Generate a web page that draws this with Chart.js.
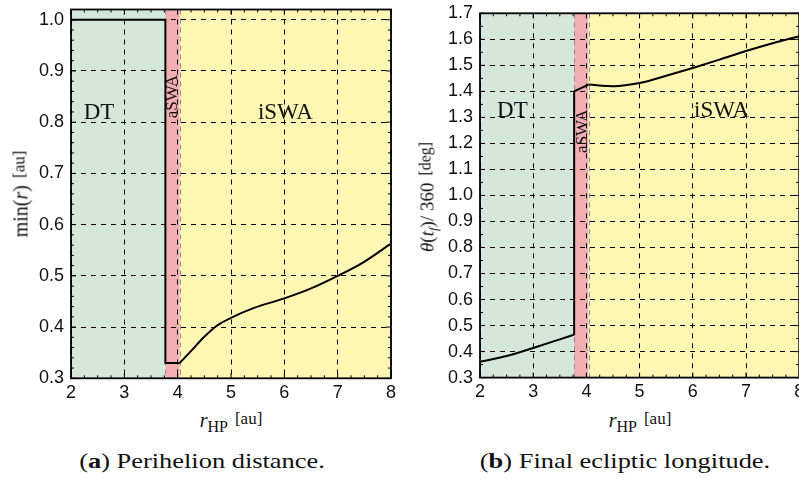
<!DOCTYPE html>
<html>
<head>
<meta charset="utf-8">
<script src="https://cdn.jsdelivr.net/npm/chart.js@4.4.0/dist/chart.umd.min.js"></script>
<style>
  body { margin: 0; width: 799px; height: 481px; overflow: hidden; background: #fff; position: relative; }
  canvas { position: absolute; top: 0; }
  .t { position: absolute; font-family: "Liberation Serif", "DejaVu Serif", serif; color: #111; white-space: nowrap; transform: translate(-50%, -50%); }
  .t.rot { transform: translate(-50%, -50%) rotate(-90deg); }
  .ax { font-size: 20px; }
  .ax i { font-style: italic; }
  .ax sub { font-size: 16px; vertical-align: -5px; }
  .ax .u { font-size: 17px; position: relative; top: -3px; margin-left: 7px; }
  .ax.th { font-size: 19px; }
  .ax.th sub { font-size: 13px; vertical-align: -4px; }
  .ax.th .u { font-size: 16px; }
  .cap { font-size: 22px; transform: translate(-50%, -50%) scaleX(1.2); }
</style>
</head>
<body>
<canvas id="chartA" width="400" height="400" style="left:0"></canvas>
<canvas id="chartB" width="410" height="400" style="left:400px"></canvas>

<div class="t ax" style="left:231px;top:422px"><i>r</i><sub>HP</sub><span class="u">[au]</span></div>
<div class="t ax" style="left:640px;top:422px"><i>r</i><sub>HP</sub><span class="u">[au]</span></div>
<div class="t ax rot" style="left:21px;top:194px">min(<i>r</i>)<span class="u">[au]</span></div>
<div class="t ax th rot" style="left:429px;top:197px"><i>θ</i>(<i>t<sub>f</sub></i>)/ 360<span class="u">[deg]</span></div>
<div class="t cap" style="left:202px;top:461px">(<b>a</b>) Perihelion distance.</div>
<div class="t cap" style="left:625px;top:461px">(<b>b</b>) Final ecliptic longitude.</div>

<script>
// (a) perihelion distance vs r_HP
const stepXA = [2, 3.77, 3.77, 4.04];
const stepYA = [1, 1, 0.33, 0.33];
const curveXA = [4.04, 4.24, 4.49, 4.74, 5.0, 5.42, 6.0, 6.49, 7.0, 7.49, 8.0];
const curveYA = [0.330, 0.352, 0.380, 0.403, 0.418, 0.437, 0.456, 0.475, 0.500, 0.527, 0.563];
const yTicksA = [0.3, 0.4, 0.5, 0.6, 0.7, 0.8, 0.9, 1];

// (b) final ecliptic longitude vs r_HP
const lowXB = [2, 2.5, 3, 3.5, 3.77];
const lowYB = [0.361, 0.383, 0.414, 0.447, 0.465];
const jumpXB = [3.77, 3.77, 4.04];
const jumpYB = [0.465, 1.40, 1.426];
const highXB = [4.04, 4.51, 5, 5.5, 6, 6.5, 7, 7.5, 8];
const highYB = [1.426, 1.420, 1.432, 1.460, 1.490, 1.522, 1.555, 1.585, 1.612];
const yTicksB = [0.3, 0.4, 0.5, 0.6, 0.7, 0.8, 0.9, 1, 1.1, 1.2, 1.3, 1.4, 1.5, 1.6, 1.7];

const xTicks = [2, 3, 4, 5, 6, 7, 8];
const bandEdges = [2, 3.77, 4.04, 8];
const bandNames = ['DT', 'aSWA', 'iSWA'];
const bandColors = ['#d5e7da', '#f3aeb3', '#fff6b3'];

const pts = (xs, ys) => xs.map((x, i) => ({ x, y: ys[i] }));

const regionPlugin = {
  id: 'regions',
  beforeDraw(chart, args, o) {
    const { ctx, chartArea: a, scales: { x, y } } = chart;
    ctx.save();
    for (let i = 0; i < bandNames.length; i++) {
      const x0 = x.getPixelForValue(bandEdges[i]);
      const x1 = x.getPixelForValue(bandEdges[i + 1]);
      ctx.fillStyle = bandColors[i];
      ctx.fillRect(x0, a.top, x1 - x0, a.bottom - a.top);
    }
    // dashed edges of the middle band
    ctx.strokeStyle = '#8c8c8c';
    ctx.lineWidth = 1;
    ctx.setLineDash([5, 4]);
    [bandEdges[1], bandEdges[2]].forEach(v => {
      const px = Math.round(x.getPixelForValue(v)) + 0.5;
      ctx.beginPath();
      ctx.moveTo(px, a.top);
      ctx.lineTo(px, a.bottom);
      ctx.stroke();
    });
    ctx.setLineDash([]);
    ctx.fillStyle = '#111';
    ctx.font = '23px "Liberation Serif", serif';
    ctx.textAlign = 'center';
    ctx.textBaseline = 'alphabetic';
    o.labels.forEach(l => {
      ctx.fillText(l.text, x.getPixelForValue(l.x), y.getPixelForValue(l.y));
    });
    // narrow band name, turned on its side
    ctx.save();
    ctx.translate(x.getPixelForValue(o.side.x), y.getPixelForValue(o.side.y));
    ctx.rotate(-Math.PI / 2);
    ctx.font = '17px "Liberation Serif", serif';
    ctx.textBaseline = 'middle';
    ctx.fillText(bandNames[1], 0, 0);
    ctx.restore();
    ctx.restore();
  },
  afterDraw(chart, args, o) {
    const { ctx, chartArea: a, scales: { x, y } } = chart;
    ctx.save();
    ctx.strokeStyle = '#000';
    ctx.lineWidth = 1;
    const mark = (horiz, p, len) => {
      ctx.beginPath();
      if (horiz) {
        ctx.moveTo(p, a.bottom); ctx.lineTo(p, a.bottom - len);
        ctx.moveTo(p, a.top); ctx.lineTo(p, a.top + len);
      } else {
        ctx.moveTo(a.left, p); ctx.lineTo(a.left + len, p);
        ctx.moveTo(a.right, p); ctx.lineTo(a.right - len, p);
      }
      ctx.stroke();
    };
    [[x, true, o.xSub], [y, false, o.ySub]].forEach(([s, horiz, sub]) => {
      const t = s.ticks.map(k => k.value);
      t.forEach((v, i) => {
        mark(horiz, s.getPixelForValue(v), 5);
        if (i < t.length - 1) {
          for (let j = 1; j < sub; j++) {
            mark(horiz, s.getPixelForValue(v + (t[i + 1] - v) * j / sub), 3);
          }
        }
      });
    });
    ctx.lineWidth = 1.8;
    ctx.strokeRect(a.left, a.top, a.right - a.left, a.bottom - a.top);
    ctx.restore();
  }
};

function lineSet(data, smooth) {
  return {
    data,
    borderColor: '#000',
    borderWidth: 2,
    pointRadius: 0,
    fill: false,
    tension: 0,
    cubicInterpolationMode: smooth ? 'monotone' : 'default'
  };
}

function makeChart(id, datasets, yTicks, yMin, yMax, box, plug) {
  return new Chart(document.getElementById(id), {
    type: 'line',
    data: { datasets },
    plugins: [regionPlugin],
    options: {
      responsive: false,
      animation: false,
      layout: { padding: { left: 0, top: box.top, right: box.right, bottom: 0 } },
      plugins: { legend: { display: false }, tooltip: { enabled: false }, regions: plug },
      scales: {
        x: {
          type: 'linear', min: 2, max: 8,
          afterBuildTicks: s => { s.ticks = xTicks.map(value => ({ value })); },
          afterFit: s => { s.height = box.xh; s.paddingLeft = 0; s.paddingRight = 0; },
          grid: { color: '#000', lineWidth: 1, drawTicks: false },
          border: { display: false, dash: [5, 5] },
          ticks: { padding: 4, color: '#111', font: { family: 'Liberation Sans', size: 18 }, maxRotation: 0 }
        },
        y: {
          type: 'linear', min: yMin, max: yMax,
          afterBuildTicks: s => { s.ticks = yTicks.map(value => ({ value })); },
          afterFit: s => { s.width = box.yw; s.paddingTop = 0; s.paddingBottom = 0; },
          grid: { color: '#000', lineWidth: 1, drawTicks: false },
          border: { display: false, dash: [5, 5] },
          ticks: { padding: 7, color: '#111', font: { family: 'Liberation Sans', size: 18 } }
        }
      }
    }
  });
}

makeChart('chartA',
  [lineSet(pts(stepXA, stepYA), false), lineSet(pts(curveXA, curveYA), true)],
  yTicksA, 0.3, 1.02,
  { top: 9.5, right: 9, xh: 21.7, yw: 71 },
  {
    labels: [{ text: 'DT', x: 2.525, y: 0.807 }, { text: 'iSWA', x: 6.02, y: 0.807 }],
    side: { x: 3.905, y: 0.85 },
    xSub: 4, ySub: 5
  });

makeChart('chartB',
  [lineSet(pts(lowXB, lowYB), true), lineSet(pts(jumpXB, jumpYB), false), lineSet(pts(highXB, highYB), true)],
  yTicksB, 0.3, 1.7,
  { top: 13.3, right: 10.8, xh: 22.4, yw: 80 },
  {
    labels: [{ text: 'DT', x: 2.61, y: 1.302 }, { text: 'iSWA', x: 6.54, y: 1.302 }],
    side: { x: 3.93, y: 1.247 },
    xSub: 4, ySub: 2
  });
</script>
</body>
</html>
